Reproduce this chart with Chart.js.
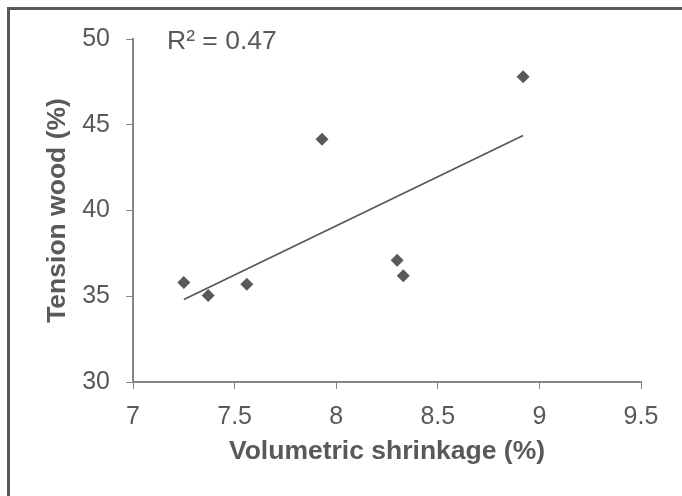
<!DOCTYPE html>
<html>
<head>
<meta charset="utf-8">
<script src="https://cdn.jsdelivr.net/npm/chart.js@4/dist/chart.umd.min.js"></script>
<style>
  html, body { margin: 0; padding: 0; background: #fff; overflow: hidden; }
  #wrap { position: relative; width: 682px; height: 496px; }
  canvas { display: block; }
</style>
</head>
<body>
<div id="wrap"><canvas id="myChart" width="682" height="496"></canvas></div>
<script>
// Shrinkage vs tension wood samples
const shrinkage = [7.25, 7.37, 7.56, 7.93, 8.30, 8.33, 8.92];
const tensionWood = [35.8, 35.05, 35.7, 44.15, 37.1, 36.2, 47.8];
const xTicks = [7, 7.5, 8, 8.5, 9, 9.5];
const yTicks = [30, 35, 40, 45, 50];
const r2Label = 'R² = 0.47';

const grey = '#595959';
const axisGrey = '#868686';
const fontFamily = '"Liberation Sans", Arial, sans-serif';

// least squares line through the samples, drawn across the sample range
const fitLine = (xs, ys) => {
    const n = xs.length;
    const mx = xs.reduce((a, b) => a + b, 0) / n;
    const my = ys.reduce((a, b) => a + b, 0) / n;
    let sxy = 0, sxx = 0;
    xs.forEach((x, i) => {
        sxy += (x - mx) * (ys[i] - my);
        sxx += (x - mx) * (x - mx);
    });
    const slope = sxy / sxx;
    const icpt = my - slope * mx;
    const lo = Math.min(...xs), hi = Math.max(...xs);
    return [{x: lo, y: slope * lo + icpt}, {x: hi, y: slope * hi + icpt}];
};

const points = shrinkage.map((x, i) => ({x: x, y: tensionWood[i]}));

// frame on the top/left edge and the R² text
const decor = {
    id: 'decor',
    afterDraw(chart) {
        const ctx = chart.ctx;
        ctx.save();
        ctx.fillStyle = grey;
        ctx.fillRect(7, 7, 682 - 7, 3);
        ctx.fillRect(7, 7, 3, 496 - 7);
        ctx.font = '26.5px ' + fontFamily;
        ctx.textBaseline = 'middle';
        ctx.textAlign = 'left';
        ctx.fillText(r2Label, 167, 42);
        ctx.restore();
    }
};

const chart = new Chart(document.getElementById('myChart'), {
    type: 'scatter',
    data: {
        datasets: [{
            label: 'Samples',
            data: points,
            pointStyle: 'rectRot',
            pointRadius: 6.5,
            pointHoverRadius: 6.5,
            backgroundColor: grey,
            borderColor: grey,
            borderWidth: 0
        }, {
            label: 'Linear fit',
            type: 'line',
            data: fitLine(shrinkage, tensionWood),
            borderColor: grey,
            borderWidth: 1.8,
            pointRadius: 0,
            fill: false
        }]
    },
    options: {
        responsive: false,
        animation: false,
        layout: {
            padding: {left: 0, top: 39, right: 41, bottom: 0}
        },
        plugins: {
            legend: {display: false},
            tooltip: {enabled: false}
        },
        scales: {
            x: {
                type: 'linear',
                min: 7,
                max: 9.5,
                afterBuildTicks: (s) => { s.ticks = xTicks.map(v => ({value: v})); },
                afterFit: (s) => { s.height = 496 - 382; },
                grid: {display: true, drawOnChartArea: false, drawTicks: true, tickLength: 7, color: axisGrey},
                border: {display: true, color: axisGrey, width: 2},
                ticks: {
                    color: grey,
                    padding: 13,
                    font: {family: fontFamily, size: 25},
                    callback: (v) => String(v)
                },
                title: {
                    display: true,
                    text: 'Volumetric shrinkage (%)',
                    color: grey,
                    font: {family: fontFamily, size: 26.5, weight: 'bold', lineHeight: 1},
                    padding: {top: 0, bottom: 31}
                }
            },
            y: {
                min: 30,
                max: 50,
                afterBuildTicks: (s) => { s.ticks = yTicks.map(v => ({value: v})); },
                afterFit: (s) => { s.width = 133; },
                grid: {display: true, drawOnChartArea: false, drawTicks: true, tickLength: 7, color: axisGrey},
                border: {display: true, color: axisGrey, width: 2},
                ticks: {
                    color: grey,
                    padding: 16,
                    font: {family: fontFamily, size: 25},
                    callback: (v) => String(v)
                },
                title: {
                    display: true,
                    text: 'Tension wood (%)',
                    color: grey,
                    font: {family: fontFamily, size: 26.5, weight: 'bold', lineHeight: 1},
                    padding: {top: 44, bottom: 0}
                }
            }
        }
    },
    plugins: [decor]
});
</script>
</body>
</html>
